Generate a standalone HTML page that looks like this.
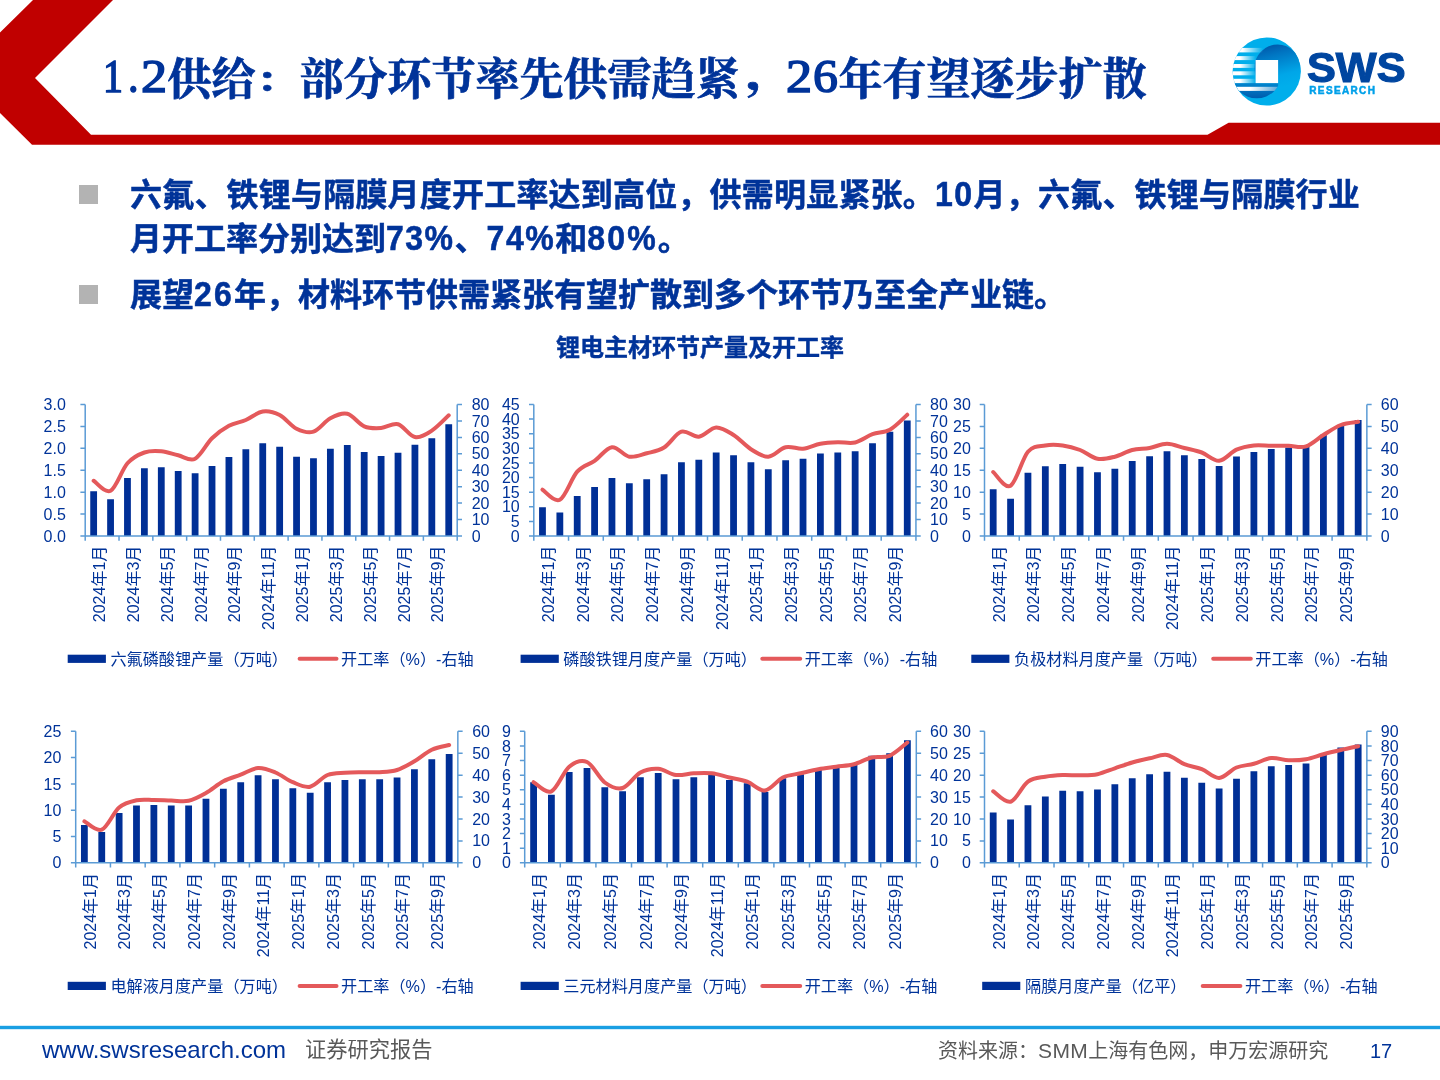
<!DOCTYPE html>
<html lang="zh-CN">
<head>
<meta charset="utf-8">
<title>1.2供给：部分环节率先供需趋紧，26年有望逐步扩散</title>
<style>
html,body{margin:0;padding:0;background:#fff;overflow:hidden;}
body{width:1440px;height:1080px;position:relative;overflow:hidden;font-family:"Liberation Sans","Noto Sans CJK SC",sans-serif;}
#art{position:absolute;left:0;top:0;}
.abs{position:absolute;white-space:nowrap;margin:0;}
#title{left:0;top:48.7px;width:1200px;height:64px;font-family:"Liberation Serif","Noto Serif CJK SC",serif;font-weight:bold;font-size:44px;line-height:64px;color:#003399;-webkit-text-stroke:0.7px #003399;}
#title span{position:absolute;top:0;white-space:nowrap;transform-origin:0 0;}
#title .n{font-size:47px;font-weight:normal;-webkit-text-stroke:1.5px #003399;top:-4.7px;}
.bul{position:absolute;left:79.3px;width:18.4px;height:18.4px;background:#B3B3B3;}
.body{font-weight:bold;font-size:32px;line-height:44px;color:#003399;left:130px;-webkit-text-stroke:0.5px #003399;}
.body .n{display:inline-block;letter-spacing:1.5px;transform:scaleY(1.1);transform-origin:0 33.3px;line-height:44px;vertical-align:baseline;}
#ctitle{left:0;width:1400px;text-align:center;top:332px;font-weight:bold;font-size:24px;line-height:32px;color:#003399;-webkit-text-stroke:0.4px #003399;}
#url{left:42px;top:1035px;font-size:24px;line-height:30px;color:#003399;}
#rep{left:305px;top:1035px;font-size:21.25px;line-height:30px;color:#595959;}
#src{left:938px;top:1036px;font-size:20px;line-height:30px;color:#595959;}
#pg{left:1370px;top:1036px;font-size:20px;line-height:30px;color:#003399;}
#sws{left:1306.5px;top:44.5px;font-weight:bold;font-size:42px;line-height:46px;color:#0046A0;transform-origin:0 50%;transform:scale(1.03,1.02);-webkit-text-stroke:1.2px #0046A0;}
#res{left:1309.3px;top:84.4px;font-weight:bold;font-size:10px;line-height:14px;color:#00A0E9;letter-spacing:1.35px;-webkit-text-stroke:0.5px #00A0E9;}
</style>
</head>
<body>
<svg id="art" width="1440" height="1080" viewBox="0 0 1440 1080">
<path d="M33,0H113L35,78L91,134.8H1207.5L1228.6,122.8H1440V144.8H32L0,113V32.5Z" fill="#C00000"/>
<g id="logo">
<defs>
<clipPath id="lgo"><circle cx="1266.7" cy="71.5" r="34.1"/></clipPath>
<clipPath id="lg2"><circle cx="1256.7" cy="73.3" r="25"/></clipPath>
<clipPath id="lg1"><rect x="1255.6" y="30" width="60" height="90"/></clipPath>
<linearGradient id="lgA" x1="0" y1="0" x2="0.25" y2="1"><stop offset="0" stop-color="#004EA2"/><stop offset="0.3" stop-color="#0075C2"/><stop offset="0.75" stop-color="#00A6E8"/><stop offset="1" stop-color="#00AEEB"/></linearGradient>
<linearGradient id="lgB" x1="0" y1="0" x2="0" y2="1"><stop offset="0" stop-color="#0086CF"/><stop offset="1" stop-color="#004EA2"/></linearGradient>
<linearGradient id="lgS" x1="0" y1="0" x2="1" y2="0"><stop offset="0" stop-color="#fff" stop-opacity="1"/><stop offset="0.35" stop-color="#fff" stop-opacity="1"/><stop offset="1" stop-color="#fff" stop-opacity="0"/></linearGradient>
<linearGradient id="lgT" x1="0" y1="0" x2="1" y2="0"><stop offset="0" stop-color="#fff" stop-opacity="1"/><stop offset="0.4" stop-color="#fff" stop-opacity="1"/><stop offset="1" stop-color="#fff" stop-opacity="0.35"/></linearGradient>
</defs>
<circle cx="1266.7" cy="71.5" r="34.1" fill="#00AEEB"/>
<g clip-path="url(#lgo)"><circle cx="1277.6" cy="67.9" r="23.3" fill="url(#lgA)"/></g>
<g clip-path="url(#lgo)">
<g clip-path="url(#lg2)"><rect x="1230" y="83.1" width="48.1" height="20" fill="url(#lgB)"/><rect x="1232" y="86.8" width="46.1" height="4.1" fill="url(#lgT)"/></g>
<rect x="1232" y="47.9" width="31" height="4.5" fill="url(#lgS)"/>
<rect x="1232" y="56.1" width="24" height="4.0" fill="url(#lgS)"/>
<rect x="1232" y="64.0" width="24" height="3.9" fill="url(#lgS)"/>
<rect x="1232" y="71.3" width="24" height="4.0" fill="url(#lgS)"/>
<rect x="1232" y="78.8" width="24" height="4.3" fill="url(#lgS)"/>
</g>
<rect x="1255.6" y="60" width="22.5" height="23.1" fill="#fff"/>
</g>
<rect x="0" y="1025.8" width="1440" height="3.4" fill="#1A9FE3"/>
<g font-family="'Liberation Sans','Noto Sans CJK SC',sans-serif" font-size="16" fill="#003399">
<g class="chart">
<path d="M90.25,536h6.8V491.3h-6.8zM107.16,536h6.8V499.2h-6.8zM124.07,536h6.8V478h-6.8zM140.98,536h6.8V468.3h-6.8zM157.89,536h6.8V467.2h-6.8zM174.8,536h6.8V471h-6.8zM191.71,536h6.8V473.2h-6.8zM208.62,536h6.8V466h-6.8zM225.53,536h6.8V457h-6.8zM242.44,536h6.8V449.3h-6.8zM259.34,536h6.8V443.3h-6.8zM276.25,536h6.8V446.7h-6.8zM293.16,536h6.8V456.7h-6.8zM310.07,536h6.8V458.3h-6.8zM326.98,536h6.8V448.7h-6.8zM343.89,536h6.8V445h-6.8zM360.8,536h6.8V452h-6.8zM377.71,536h6.8V456h-6.8zM394.62,536h6.8V452.8h-6.8zM411.53,536h6.8V444.8h-6.8zM428.43,536h6.8V438.2h-6.8zM445.34,536h6.8V424.3h-6.8z" fill="#002F96"/>
<path d="M85.2,404.5V536M457.2,404.5V536M80.4,536H462M80.4,514.08H85.2M80.4,492.17H85.2M80.4,470.25H85.2M80.4,448.33H85.2M80.4,426.42H85.2M80.4,404.5H85.2M457.2,519.56H462M457.2,503.12H462M457.2,486.69H462M457.2,470.25H462M457.2,453.81H462M457.2,437.38H462M457.2,420.94H462M457.2,404.5H462M85.2,536V540.8M119.02,536V540.8M152.84,536V540.8M186.65,536V540.8M220.47,536V540.8M254.29,536V540.8M288.11,536V540.8M321.93,536V540.8M355.74,536V540.8M389.56,536V540.8M423.38,536V540.8M457.2,536V540.8" fill="none" stroke="#5B9BD5" stroke-width="1.5"/>
<path d="M93.65,480.8C96.47,482.47 104.93,493.72 110.56,490.8C116.2,487.88 121.84,469.68 127.47,463.3C133.11,456.92 138.75,454.5 144.38,452.5C150.02,450.5 155.65,450.83 161.29,451.3C166.93,451.77 172.56,454.07 178.2,455.3C183.84,456.53 189.47,461.53 195.11,458.7C200.74,455.87 206.38,443.78 212.02,438.3C217.65,432.82 223.29,428.85 228.93,425.8C234.56,422.75 240.2,422.38 245.84,420C251.47,417.62 257.11,412.33 262.74,411.5C268.38,410.67 274.02,412.13 279.65,415C285.29,417.87 290.93,425.92 296.56,428.7C302.2,431.48 307.84,433.43 313.47,431.7C319.11,429.97 324.74,421.3 330.38,418.3C336.02,415.3 341.65,412.37 347.29,413.7C352.93,415.03 358.56,423.92 364.2,426.3C369.83,428.68 375.47,428.35 381.11,428C386.74,427.65 392.38,422.7 398.02,424.2C403.65,425.7 409.29,435.93 414.93,437C420.56,438.07 426.2,434.22 431.83,430.6C437.47,426.98 445.93,417.85 448.74,415.3" fill="none" stroke="#E4595B" stroke-width="4" stroke-linecap="round" stroke-linejoin="round"/>
<g text-anchor="end" font-size="16">
<text x="65.8" y="541.6">0.0</text>
<text x="65.8" y="519.68">0.5</text>
<text x="65.8" y="497.77">1.0</text>
<text x="65.8" y="475.85">1.5</text>
<text x="65.8" y="453.93">2.0</text>
<text x="65.8" y="432.02">2.5</text>
<text x="65.8" y="410.1">3.0</text>
</g>
<g font-size="16">
<text x="471.7" y="541.6">0</text>
<text x="471.7" y="525.16">10</text>
<text x="471.7" y="508.73">20</text>
<text x="471.7" y="492.29">30</text>
<text x="471.7" y="475.85">40</text>
<text x="471.7" y="459.41">50</text>
<text x="471.7" y="442.98">60</text>
<text x="471.7" y="426.54">70</text>
<text x="471.7" y="410.1">80</text>
</g>
<g text-anchor="end">
<text transform="translate(105.2,545.7) rotate(-90)">2024年1月</text>
<text transform="translate(139.02,545.7) rotate(-90)">2024年3月</text>
<text transform="translate(172.84,545.7) rotate(-90)">2024年5月</text>
<text transform="translate(206.65,545.7) rotate(-90)">2024年7月</text>
<text transform="translate(240.47,545.7) rotate(-90)">2024年9月</text>
<text transform="translate(274.29,545.7) rotate(-90)">2024年11月</text>
<text transform="translate(308.11,545.7) rotate(-90)">2025年1月</text>
<text transform="translate(341.93,545.7) rotate(-90)">2025年3月</text>
<text transform="translate(375.74,545.7) rotate(-90)">2025年5月</text>
<text transform="translate(409.56,545.7) rotate(-90)">2025年7月</text>
<text transform="translate(443.38,545.7) rotate(-90)">2025年9月</text>
</g>
<rect x="67.7" y="654.7" width="38.2" height="8.2" fill="#002F96"/>
<text x="110.4" y="665.3" font-size="16.15">六氟磷酸锂产量（万吨）</text>
<path d="M299.6,658.8H336.5" stroke="#E4595B" stroke-width="4" stroke-linecap="round" fill="none"/>
<text x="341" y="665.3" font-size="16.15">开工率（%）-右轴</text>
</g>
<g class="chart">
<path d="M539.08,536h6.8V507.2h-6.8zM556.45,536h6.8V512.5h-6.8zM573.82,536h6.8V496h-6.8zM591.19,536h6.8V487h-6.8zM608.56,536h6.8V478h-6.8zM625.93,536h6.8V483.2h-6.8zM643.3,536h6.8V479.3h-6.8zM660.67,536h6.8V474.2h-6.8zM678.04,536h6.8V462.2h-6.8zM695.41,536h6.8V459.7h-6.8zM712.78,536h6.8V452.5h-6.8zM730.15,536h6.8V455.3h-6.8zM747.52,536h6.8V462.3h-6.8zM764.89,536h6.8V469.2h-6.8zM782.26,536h6.8V460.3h-6.8zM799.63,536h6.8V458.8h-6.8zM817,536h6.8V453.5h-6.8zM834.38,536h6.8V452.5h-6.8zM851.75,536h6.8V451.2h-6.8zM869.12,536h6.8V443.3h-6.8zM886.49,536h6.8V431.7h-6.8zM903.86,536h6.8V420.5h-6.8z" fill="#002F96"/>
<path d="M533.8,404.5V536M915.94,404.5V536M529,536H920.74M529,521.39H533.8M529,506.78H533.8M529,492.17H533.8M529,477.56H533.8M529,462.94H533.8M529,448.33H533.8M529,433.72H533.8M529,419.11H533.8M529,404.5H533.8M915.94,519.56H920.74M915.94,503.12H920.74M915.94,486.69H920.74M915.94,470.25H920.74M915.94,453.81H920.74M915.94,437.38H920.74M915.94,420.94H920.74M915.94,404.5H920.74M533.8,536V540.8M568.54,536V540.8M603.28,536V540.8M638.02,536V540.8M672.76,536V540.8M707.5,536V540.8M742.24,536V540.8M776.98,536V540.8M811.72,536V540.8M846.46,536V540.8M881.2,536V540.8M915.94,536V540.8" fill="none" stroke="#5B9BD5" stroke-width="1.5"/>
<path d="M542.48,489.7C545.38,491.37 554.06,502.7 559.85,499.7C565.64,496.7 571.43,478.18 577.22,471.7C583.01,465.22 588.8,464.88 594.59,460.8C600.38,456.72 606.17,447.88 611.96,447.2C617.75,446.52 623.54,455.68 629.33,456.7C635.12,457.72 640.91,454.83 646.7,453.3C652.49,451.77 658.28,451.1 664.07,447.5C669.86,443.9 675.65,433.5 681.44,431.7C687.23,429.9 693.02,437.4 698.81,436.7C704.6,436 710.39,427.78 716.18,427.5C721.97,427.22 727.76,431.38 733.55,435C739.34,438.62 745.13,445.58 750.92,449.2C756.71,452.82 762.5,457.03 768.29,456.7C774.08,456.37 779.88,448.53 785.66,447.2C791.45,445.87 797.25,449.28 803.03,448.7C808.82,448.12 814.62,444.78 820.4,443.7C826.19,442.62 831.99,442.4 837.77,442.2C843.56,442 849.36,443.83 855.14,442.5C860.93,441.17 866.73,436.33 872.51,434.2C878.3,432.07 884.1,432.95 889.88,429.7C895.67,426.45 904.36,417.2 907.25,414.7" fill="none" stroke="#E4595B" stroke-width="4" stroke-linecap="round" stroke-linejoin="round"/>
<g text-anchor="end" font-size="16">
<text x="519.7" y="541.6">0</text>
<text x="519.7" y="526.99">5</text>
<text x="519.7" y="512.38">10</text>
<text x="519.7" y="497.77">15</text>
<text x="519.7" y="483.16">20</text>
<text x="519.7" y="468.54">25</text>
<text x="519.7" y="453.93">30</text>
<text x="519.7" y="439.32">35</text>
<text x="519.7" y="424.71">40</text>
<text x="519.7" y="410.1">45</text>
</g>
<g font-size="16">
<text x="930" y="541.6">0</text>
<text x="930" y="525.16">10</text>
<text x="930" y="508.73">20</text>
<text x="930" y="492.29">30</text>
<text x="930" y="475.85">40</text>
<text x="930" y="459.41">50</text>
<text x="930" y="442.98">60</text>
<text x="930" y="426.54">70</text>
<text x="930" y="410.1">80</text>
</g>
<g text-anchor="end">
<text transform="translate(553.8,545.7) rotate(-90)">2024年1月</text>
<text transform="translate(588.54,545.7) rotate(-90)">2024年3月</text>
<text transform="translate(623.28,545.7) rotate(-90)">2024年5月</text>
<text transform="translate(658.02,545.7) rotate(-90)">2024年7月</text>
<text transform="translate(692.76,545.7) rotate(-90)">2024年9月</text>
<text transform="translate(727.5,545.7) rotate(-90)">2024年11月</text>
<text transform="translate(762.24,545.7) rotate(-90)">2025年1月</text>
<text transform="translate(796.98,545.7) rotate(-90)">2025年3月</text>
<text transform="translate(831.72,545.7) rotate(-90)">2025年5月</text>
<text transform="translate(866.46,545.7) rotate(-90)">2025年7月</text>
<text transform="translate(901.2,545.7) rotate(-90)">2025年9月</text>
</g>
<rect x="520.6" y="654.7" width="38.2" height="8.2" fill="#002F96"/>
<text x="563.3" y="665.3" font-size="16.15">磷酸铁锂月度产量（万吨）</text>
<path d="M762.3,658.8H800.2" stroke="#E4595B" stroke-width="4" stroke-linecap="round" fill="none"/>
<text x="804.7" y="665.3" font-size="16.15">开工率（%）-右轴</text>
</g>
<g class="chart">
<path d="M989.79,536h6.8V489.2h-6.8zM1007.17,536h6.8V498.7h-6.8zM1024.55,536h6.8V472.7h-6.8zM1041.93,536h6.8V466.3h-6.8zM1059.31,536h6.8V464h-6.8zM1076.69,536h6.8V466.7h-6.8zM1094.07,536h6.8V472.2h-6.8zM1111.45,536h6.8V468.8h-6.8zM1128.83,536h6.8V461h-6.8zM1146.21,536h6.8V456.3h-6.8zM1163.59,536h6.8V451.3h-6.8zM1180.97,536h6.8V455.2h-6.8zM1198.35,536h6.8V459h-6.8zM1215.73,536h6.8V466h-6.8zM1233.11,536h6.8V456.5h-6.8zM1250.49,536h6.8V452h-6.8zM1267.87,536h6.8V449h-6.8zM1285.25,536h6.8V447.5h-6.8zM1302.63,536h6.8V446.3h-6.8zM1320.01,536h6.8V434.7h-6.8zM1337.39,536h6.8V425h-6.8zM1354.77,536h6.8V420h-6.8z" fill="#002F96"/>
<path d="M984.5,404.5V536M1366.86,404.5V536M979.7,536H1371.66M979.7,514.08H984.5M979.7,492.17H984.5M979.7,470.25H984.5M979.7,448.33H984.5M979.7,426.42H984.5M979.7,404.5H984.5M1366.86,514.08H1371.66M1366.86,492.17H1371.66M1366.86,470.25H1371.66M1366.86,448.33H1371.66M1366.86,426.42H1371.66M1366.86,404.5H1371.66M984.5,536V540.8M1019.26,536V540.8M1054.02,536V540.8M1088.78,536V540.8M1123.54,536V540.8M1158.3,536V540.8M1193.06,536V540.8M1227.82,536V540.8M1262.58,536V540.8M1297.34,536V540.8M1332.1,536V540.8M1366.86,536V540.8" fill="none" stroke="#5B9BD5" stroke-width="1.5"/>
<path d="M993.19,472C996.09,474.3 1004.78,489.18 1010.57,485.8C1016.36,482.42 1022.16,458.42 1027.95,451.7C1033.74,444.98 1039.54,446.53 1045.33,445.5C1051.12,444.47 1056.92,444.75 1062.71,445.5C1068.5,446.25 1074.3,447.8 1080.09,450C1085.88,452.2 1091.68,457.58 1097.47,458.7C1103.26,459.82 1109.06,458.15 1114.85,456.7C1120.64,455.25 1126.44,451.45 1132.23,450C1138.02,448.55 1143.82,449.05 1149.61,448C1155.4,446.95 1161.2,443.7 1166.99,443.7C1172.78,443.7 1178.58,446.53 1184.37,448C1190.16,449.47 1195.96,450.37 1201.75,452.5C1207.54,454.63 1213.34,461.27 1219.13,460.8C1224.92,460.33 1230.72,452.25 1236.51,449.7C1242.3,447.15 1248.1,446.15 1253.89,445.5C1259.68,444.85 1265.48,445.75 1271.27,445.8C1277.06,445.85 1282.86,445.72 1288.65,445.8C1294.44,445.88 1300.24,448.1 1306.03,446.3C1311.82,444.5 1317.62,438.55 1323.41,435C1329.2,431.45 1335,427.22 1340.79,425C1346.58,422.78 1355.27,422.25 1358.17,421.7" fill="none" stroke="#E4595B" stroke-width="4" stroke-linecap="round" stroke-linejoin="round"/>
<g text-anchor="end" font-size="16">
<text x="970.9" y="541.6">0</text>
<text x="970.9" y="519.68">5</text>
<text x="970.9" y="497.77">10</text>
<text x="970.9" y="475.85">15</text>
<text x="970.9" y="453.93">20</text>
<text x="970.9" y="432.02">25</text>
<text x="970.9" y="410.1">30</text>
</g>
<g font-size="16">
<text x="1380.8" y="541.6">0</text>
<text x="1380.8" y="519.68">10</text>
<text x="1380.8" y="497.77">20</text>
<text x="1380.8" y="475.85">30</text>
<text x="1380.8" y="453.93">40</text>
<text x="1380.8" y="432.02">50</text>
<text x="1380.8" y="410.1">60</text>
</g>
<g text-anchor="end">
<text transform="translate(1004.5,545.7) rotate(-90)">2024年1月</text>
<text transform="translate(1039.26,545.7) rotate(-90)">2024年3月</text>
<text transform="translate(1074.02,545.7) rotate(-90)">2024年5月</text>
<text transform="translate(1108.78,545.7) rotate(-90)">2024年7月</text>
<text transform="translate(1143.54,545.7) rotate(-90)">2024年9月</text>
<text transform="translate(1178.3,545.7) rotate(-90)">2024年11月</text>
<text transform="translate(1213.06,545.7) rotate(-90)">2025年1月</text>
<text transform="translate(1247.82,545.7) rotate(-90)">2025年3月</text>
<text transform="translate(1282.58,545.7) rotate(-90)">2025年5月</text>
<text transform="translate(1317.34,545.7) rotate(-90)">2025年7月</text>
<text transform="translate(1352.1,545.7) rotate(-90)">2025年9月</text>
</g>
<rect x="971.3" y="654.7" width="38.1" height="8.2" fill="#002F96"/>
<text x="1014" y="665.3" font-size="16.15">负极材料月度产量（万吨）</text>
<path d="M1213.2,658.8H1250.8" stroke="#E4595B" stroke-width="4" stroke-linecap="round" fill="none"/>
<text x="1255.3" y="665.3" font-size="16.15">开工率（%）-右轴</text>
</g>
<g class="chart">
<path d="M80.98,862.8h6.8V825h-6.8zM98.35,862.8h6.8V832h-6.8zM115.72,862.8h6.8V813h-6.8zM133.09,862.8h6.8V805.5h-6.8zM150.47,862.8h6.8V805h-6.8zM167.84,862.8h6.8V805.5h-6.8zM185.21,862.8h6.8V805.5h-6.8zM202.58,862.8h6.8V798.7h-6.8zM219.95,862.8h6.8V788.8h-6.8zM237.32,862.8h6.8V782.3h-6.8zM254.69,862.8h6.8V775.2h-6.8zM272.06,862.8h6.8V779.2h-6.8zM289.43,862.8h6.8V788.3h-6.8zM306.8,862.8h6.8V792.8h-6.8zM324.17,862.8h6.8V782.3h-6.8zM341.54,862.8h6.8V780h-6.8zM358.91,862.8h6.8V779.2h-6.8zM376.28,862.8h6.8V779.2h-6.8zM393.65,862.8h6.8V777.5h-6.8zM411.02,862.8h6.8V769.3h-6.8zM428.39,862.8h6.8V759.2h-6.8zM445.76,862.8h6.8V754h-6.8z" fill="#002F96"/>
<path d="M75.7,731.3V862.8M457.84,731.3V862.8M70.9,862.8H462.64M70.9,836.5H75.7M70.9,810.2H75.7M70.9,783.9H75.7M70.9,757.6H75.7M70.9,731.3H75.7M457.84,840.88H462.64M457.84,818.97H462.64M457.84,797.05H462.64M457.84,775.13H462.64M457.84,753.22H462.64M457.84,731.3H462.64M75.7,862.8V867.6M110.44,862.8V867.6M145.18,862.8V867.6M179.92,862.8V867.6M214.66,862.8V867.6M249.4,862.8V867.6M284.14,862.8V867.6M318.88,862.8V867.6M353.62,862.8V867.6M388.36,862.8V867.6M423.1,862.8V867.6M457.84,862.8V867.6" fill="none" stroke="#5B9BD5" stroke-width="1.5"/>
<path d="M84.39,821.3C87.28,822.7 95.97,832 101.75,829.7C107.54,827.4 113.33,812.4 119.12,807.5C124.92,802.6 130.71,801.55 136.5,800.3C142.28,799.05 148.08,799.97 153.87,800C159.66,800.03 165.45,800.37 171.24,800.5C177.03,800.63 182.82,802.05 188.61,800.8C194.4,799.55 200.19,796.25 205.98,793C211.77,789.75 217.56,784.35 223.35,781.3C229.14,778.25 234.93,776.92 240.72,774.7C246.51,772.48 252.3,768.37 258.09,768C263.88,767.63 269.67,770.13 275.46,772.5C281.25,774.87 287.03,779.83 292.82,782.2C298.62,784.57 304.4,787.9 310.19,786.7C315.99,785.5 321.77,777.33 327.56,775C333.36,772.67 339.14,773.17 344.94,772.7C350.73,772.23 356.51,772.28 362.31,772.2C368.1,772.12 373.88,772.57 379.68,772.2C385.47,771.83 391.25,771.82 397.05,770C402.84,768.18 408.62,764.68 414.42,761.3C420.21,757.92 426,752.42 431.79,749.7C437.58,746.98 446.26,745.78 449.16,745" fill="none" stroke="#E4595B" stroke-width="4" stroke-linecap="round" stroke-linejoin="round"/>
<g text-anchor="end" font-size="16">
<text x="61.3" y="868.4">0</text>
<text x="61.3" y="842.1">5</text>
<text x="61.3" y="815.8">10</text>
<text x="61.3" y="789.5">15</text>
<text x="61.3" y="763.2">20</text>
<text x="61.3" y="736.9">25</text>
</g>
<g font-size="16">
<text x="472.2" y="868.4">0</text>
<text x="472.2" y="846.48">10</text>
<text x="472.2" y="824.57">20</text>
<text x="472.2" y="802.65">30</text>
<text x="472.2" y="780.73">40</text>
<text x="472.2" y="758.82">50</text>
<text x="472.2" y="736.9">60</text>
</g>
<g text-anchor="end">
<text transform="translate(95.7,873) rotate(-90)">2024年1月</text>
<text transform="translate(130.44,873) rotate(-90)">2024年3月</text>
<text transform="translate(165.18,873) rotate(-90)">2024年5月</text>
<text transform="translate(199.92,873) rotate(-90)">2024年7月</text>
<text transform="translate(234.66,873) rotate(-90)">2024年9月</text>
<text transform="translate(269.4,873) rotate(-90)">2024年11月</text>
<text transform="translate(304.14,873) rotate(-90)">2025年1月</text>
<text transform="translate(338.88,873) rotate(-90)">2025年3月</text>
<text transform="translate(373.62,873) rotate(-90)">2025年5月</text>
<text transform="translate(408.36,873) rotate(-90)">2025年7月</text>
<text transform="translate(443.1,873) rotate(-90)">2025年9月</text>
</g>
<rect x="67.7" y="981.8" width="38.2" height="8.2" fill="#002F96"/>
<text x="110.4" y="992.4" font-size="16.15">电解液月度产量（万吨）</text>
<path d="M299.6,985.9H336.5" stroke="#E4595B" stroke-width="4" stroke-linecap="round" fill="none"/>
<text x="341" y="992.4" font-size="16.15">开工率（%）-右轴</text>
</g>
<g class="chart">
<path d="M530.2,862.8h6.8V782.3h-6.8zM548,862.8h6.8V794.7h-6.8zM565.8,862.8h6.8V772h-6.8zM583.6,862.8h6.8V768h-6.8zM601.4,862.8h6.8V787.3h-6.8zM619.2,862.8h6.8V791.2h-6.8zM637,862.8h6.8V777.2h-6.8zM654.8,862.8h6.8V773h-6.8zM672.6,862.8h6.8V779.3h-6.8zM690.4,862.8h6.8V777.2h-6.8zM708.2,862.8h6.8V775h-6.8zM726,862.8h6.8V780h-6.8zM743.8,862.8h6.8V783.3h-6.8zM761.6,862.8h6.8V792h-6.8zM779.4,862.8h6.8V778.3h-6.8zM797.2,862.8h6.8V774.2h-6.8zM815,862.8h6.8V770h-6.8zM832.8,862.8h6.8V767.5h-6.8zM850.6,862.8h6.8V763.3h-6.8zM868.4,862.8h6.8V755.8h-6.8zM886.2,862.8h6.8V753.3h-6.8zM904,862.8h6.8V740.3h-6.8z" fill="#002F96"/>
<path d="M524.7,731.3V862.8M916.3,731.3V862.8M519.9,862.8H921.1M519.9,848.19H524.7M519.9,833.58H524.7M519.9,818.97H524.7M519.9,804.36H524.7M519.9,789.74H524.7M519.9,775.13H524.7M519.9,760.52H524.7M519.9,745.91H524.7M519.9,731.3H524.7M916.3,840.88H921.1M916.3,818.97H921.1M916.3,797.05H921.1M916.3,775.13H921.1M916.3,753.22H921.1M916.3,731.3H921.1M524.7,862.8V867.6M560.3,862.8V867.6M595.9,862.8V867.6M631.5,862.8V867.6M667.1,862.8V867.6M702.7,862.8V867.6M738.3,862.8V867.6M773.9,862.8V867.6M809.5,862.8V867.6M845.1,862.8V867.6M880.7,862.8V867.6M916.3,862.8V867.6" fill="none" stroke="#5B9BD5" stroke-width="1.5"/>
<path d="M533.6,782.2C536.57,783.72 545.47,793.88 551.4,791.3C557.33,788.72 563.27,771.58 569.2,766.7C575.13,761.82 581.07,759.37 587,762C592.93,764.63 598.87,778.17 604.8,782.5C610.73,786.83 616.67,789.67 622.6,788C628.53,786.33 634.47,775.7 640.4,772.5C646.33,769.3 652.27,768.38 658.2,768.8C664.13,769.22 670.07,774.25 676,775C681.93,775.75 687.87,773.58 693.8,773.3C699.73,773.02 705.67,772.6 711.6,773.3C717.53,774 723.47,776.1 729.4,777.5C735.33,778.9 741.27,779.53 747.2,781.7C753.13,783.87 759.07,791.2 765,790.5C770.93,789.8 776.87,780.37 782.8,777.5C788.73,774.63 794.67,774.68 800.6,773.3C806.53,771.92 812.47,770.3 818.4,769.2C824.33,768.1 830.27,767.53 836.2,766.7C842.13,765.87 848.07,765.73 854,764.2C859.93,762.67 865.87,758.9 871.8,757.5C877.73,756.1 883.67,758.3 889.6,755.8C895.53,753.3 904.43,744.72 907.4,742.5" fill="none" stroke="#E4595B" stroke-width="4" stroke-linecap="round" stroke-linejoin="round"/>
<g text-anchor="end" font-size="16">
<text x="510.8" y="868.4">0</text>
<text x="510.8" y="853.79">1</text>
<text x="510.8" y="839.18">2</text>
<text x="510.8" y="824.57">3</text>
<text x="510.8" y="809.96">4</text>
<text x="510.8" y="795.34">5</text>
<text x="510.8" y="780.73">6</text>
<text x="510.8" y="766.12">7</text>
<text x="510.8" y="751.51">8</text>
<text x="510.8" y="736.9">9</text>
</g>
<g font-size="16">
<text x="930" y="868.4">0</text>
<text x="930" y="846.48">10</text>
<text x="930" y="824.57">20</text>
<text x="930" y="802.65">30</text>
<text x="930" y="780.73">40</text>
<text x="930" y="758.82">50</text>
<text x="930" y="736.9">60</text>
</g>
<g text-anchor="end">
<text transform="translate(544.7,873) rotate(-90)">2024年1月</text>
<text transform="translate(580.3,873) rotate(-90)">2024年3月</text>
<text transform="translate(615.9,873) rotate(-90)">2024年5月</text>
<text transform="translate(651.5,873) rotate(-90)">2024年7月</text>
<text transform="translate(687.1,873) rotate(-90)">2024年9月</text>
<text transform="translate(722.7,873) rotate(-90)">2024年11月</text>
<text transform="translate(758.3,873) rotate(-90)">2025年1月</text>
<text transform="translate(793.9,873) rotate(-90)">2025年3月</text>
<text transform="translate(829.5,873) rotate(-90)">2025年5月</text>
<text transform="translate(865.1,873) rotate(-90)">2025年7月</text>
<text transform="translate(900.7,873) rotate(-90)">2025年9月</text>
</g>
<rect x="520.6" y="981.8" width="38.2" height="8.2" fill="#002F96"/>
<text x="563.3" y="992.4" font-size="16.15">三元材料月度产量（万吨）</text>
<path d="M762.3,985.9H800.2" stroke="#E4595B" stroke-width="4" stroke-linecap="round" fill="none"/>
<text x="804.7" y="992.4" font-size="16.15">开工率（%）-右轴</text>
</g>
<g class="chart">
<path d="M989.79,862.8h6.8V812.5h-6.8zM1007.17,862.8h6.8V819.5h-6.8zM1024.55,862.8h6.8V805.3h-6.8zM1041.93,862.8h6.8V796.5h-6.8zM1059.31,862.8h6.8V790.8h-6.8zM1076.69,862.8h6.8V791.2h-6.8zM1094.07,862.8h6.8V789.5h-6.8zM1111.45,862.8h6.8V784.3h-6.8zM1128.83,862.8h6.8V778.3h-6.8zM1146.21,862.8h6.8V774.2h-6.8zM1163.59,862.8h6.8V771.7h-6.8zM1180.97,862.8h6.8V777.8h-6.8zM1198.35,862.8h6.8V782.8h-6.8zM1215.73,862.8h6.8V788.5h-6.8zM1233.11,862.8h6.8V778.7h-6.8zM1250.49,862.8h6.8V771.3h-6.8zM1267.87,862.8h6.8V766.3h-6.8zM1285.25,862.8h6.8V765h-6.8zM1302.63,862.8h6.8V763.5h-6.8zM1320.01,862.8h6.8V755h-6.8zM1337.39,862.8h6.8V747.5h-6.8zM1354.77,862.8h6.8V744.5h-6.8z" fill="#002F96"/>
<path d="M984.5,731.3V862.8M1366.86,731.3V862.8M979.7,862.8H1371.66M979.7,840.88H984.5M979.7,818.97H984.5M979.7,797.05H984.5M979.7,775.13H984.5M979.7,753.22H984.5M979.7,731.3H984.5M1366.86,848.19H1371.66M1366.86,833.58H1371.66M1366.86,818.97H1371.66M1366.86,804.36H1371.66M1366.86,789.74H1371.66M1366.86,775.13H1371.66M1366.86,760.52H1371.66M1366.86,745.91H1371.66M1366.86,731.3H1371.66M984.5,862.8V867.6M1019.26,862.8V867.6M1054.02,862.8V867.6M1088.78,862.8V867.6M1123.54,862.8V867.6M1158.3,862.8V867.6M1193.06,862.8V867.6M1227.82,862.8V867.6M1262.58,862.8V867.6M1297.34,862.8V867.6M1332.1,862.8V867.6M1366.86,862.8V867.6" fill="none" stroke="#5B9BD5" stroke-width="1.5"/>
<path d="M993.19,791.3C996.09,793.03 1004.78,803.3 1010.57,801.7C1016.36,800.1 1022.16,785.87 1027.95,781.7C1033.74,777.53 1039.54,777.82 1045.33,776.7C1051.12,775.58 1056.92,775.23 1062.71,775C1068.5,774.77 1074.3,775.43 1080.09,775.3C1085.88,775.17 1091.68,775.37 1097.47,774.2C1103.26,773.03 1109.06,770.25 1114.85,768.3C1120.64,766.35 1126.44,764.17 1132.23,762.5C1138.02,760.83 1143.82,759.55 1149.61,758.3C1155.4,757.05 1161.2,754.02 1166.99,755C1172.78,755.98 1178.58,761.83 1184.37,764.2C1190.16,766.57 1195.96,766.9 1201.75,769.2C1207.54,771.5 1213.34,778.28 1219.13,778C1224.92,777.72 1230.72,769.87 1236.51,767.5C1242.3,765.13 1248.1,765.38 1253.89,763.8C1259.68,762.22 1265.48,758.58 1271.27,758C1277.06,757.42 1282.86,760.1 1288.65,760.3C1294.44,760.5 1300.24,760.22 1306.03,759.2C1311.82,758.18 1317.62,755.73 1323.41,754.2C1329.2,752.67 1335,751.33 1340.79,750C1346.58,748.67 1355.27,746.83 1358.17,746.2" fill="none" stroke="#E4595B" stroke-width="4" stroke-linecap="round" stroke-linejoin="round"/>
<g text-anchor="end" font-size="16">
<text x="970.9" y="868.4">0</text>
<text x="970.9" y="846.48">5</text>
<text x="970.9" y="824.57">10</text>
<text x="970.9" y="802.65">15</text>
<text x="970.9" y="780.73">20</text>
<text x="970.9" y="758.82">25</text>
<text x="970.9" y="736.9">30</text>
</g>
<g font-size="16">
<text x="1380.8" y="868.4">0</text>
<text x="1380.8" y="853.79">10</text>
<text x="1380.8" y="839.18">20</text>
<text x="1380.8" y="824.57">30</text>
<text x="1380.8" y="809.96">40</text>
<text x="1380.8" y="795.34">50</text>
<text x="1380.8" y="780.73">60</text>
<text x="1380.8" y="766.12">70</text>
<text x="1380.8" y="751.51">80</text>
<text x="1380.8" y="736.9">90</text>
</g>
<g text-anchor="end">
<text transform="translate(1004.5,873) rotate(-90)">2024年1月</text>
<text transform="translate(1039.26,873) rotate(-90)">2024年3月</text>
<text transform="translate(1074.02,873) rotate(-90)">2024年5月</text>
<text transform="translate(1108.78,873) rotate(-90)">2024年7月</text>
<text transform="translate(1143.54,873) rotate(-90)">2024年9月</text>
<text transform="translate(1178.3,873) rotate(-90)">2024年11月</text>
<text transform="translate(1213.06,873) rotate(-90)">2025年1月</text>
<text transform="translate(1247.82,873) rotate(-90)">2025年3月</text>
<text transform="translate(1282.58,873) rotate(-90)">2025年5月</text>
<text transform="translate(1317.34,873) rotate(-90)">2025年7月</text>
<text transform="translate(1352.1,873) rotate(-90)">2025年9月</text>
</g>
<rect x="982.2" y="981.8" width="38.1" height="8.2" fill="#002F96"/>
<text x="1025" y="992.4" font-size="16.15">隔膜月度产量（亿平）</text>
<path d="M1202.7,985.9H1240.4" stroke="#E4595B" stroke-width="4" stroke-linecap="round" fill="none"/>
<text x="1244.9" y="992.4" font-size="16.15">开工率（%）-右轴</text>
</g>
</g>
</svg>
<h1 class="abs" id="title"><span class="n" style="left:103.2px;transform:scaleX(0.85)">1</span><span class="n" style="left:128.2px;transform:scaleX(0.9)">.</span><span class="n" style="left:141.4px;transform:scaleX(1.11)">2</span><span style="left:167.5px">供给</span><span style="left:255.5px;transform:scaleY(0.78);transform-origin:0 33px">：</span><span style="left:299.5px">部分环节率先供需趋紧</span><span style="left:744.6px;top:-4.7px;transform:scale(1.25,0.95)">，</span><span class="n" style="left:785.6px;transform:scaleX(1.11)">2</span><span class="n" style="left:812.7px;transform:scaleX(1.06)">6</span><span style="left:838.5px">年有望逐步扩散</span></h1>
<div class="abs" id="sws">SWS</div>
<div class="abs" id="res">RESEARCH</div>
<div class="bul" style="top:185.4px"></div>
<p class="abs body" id="b1" style="top:173px;letter-spacing:0.2px">六氟、铁锂与隔膜月度开工率达到高位，供需明显紧张。<span class="n">10</span>月，六氟、铁锂与隔膜行业</p>
<p class="abs body" id="b2" style="top:217px">月开工率分别达到<span class="n">73%</span>、<span class="n">74%</span>和<span class="n" style="letter-spacing:2.2px">80%</span>。</p>
<div class="bul" style="top:285.4px"></div>
<p class="abs body" id="b3" style="top:273px">展望<span class="n" style="letter-spacing:2.2px">26</span>年，材料环节供需紧张有望扩散到多个环节乃至全产业链。</p>
<div class="abs" id="ctitle">锂电主材环节产量及开工率</div>
<div class="abs" id="url">www.swsresearch.com</div>
<div class="abs" id="rep">证券研究报告</div>
<div class="abs" id="src">资料来源：<span style="font-size:21px;letter-spacing:0.4px">SMM</span>上海有色网，申万宏源研究</div>
<div class="abs" id="pg">17</div>
</body>
</html>
